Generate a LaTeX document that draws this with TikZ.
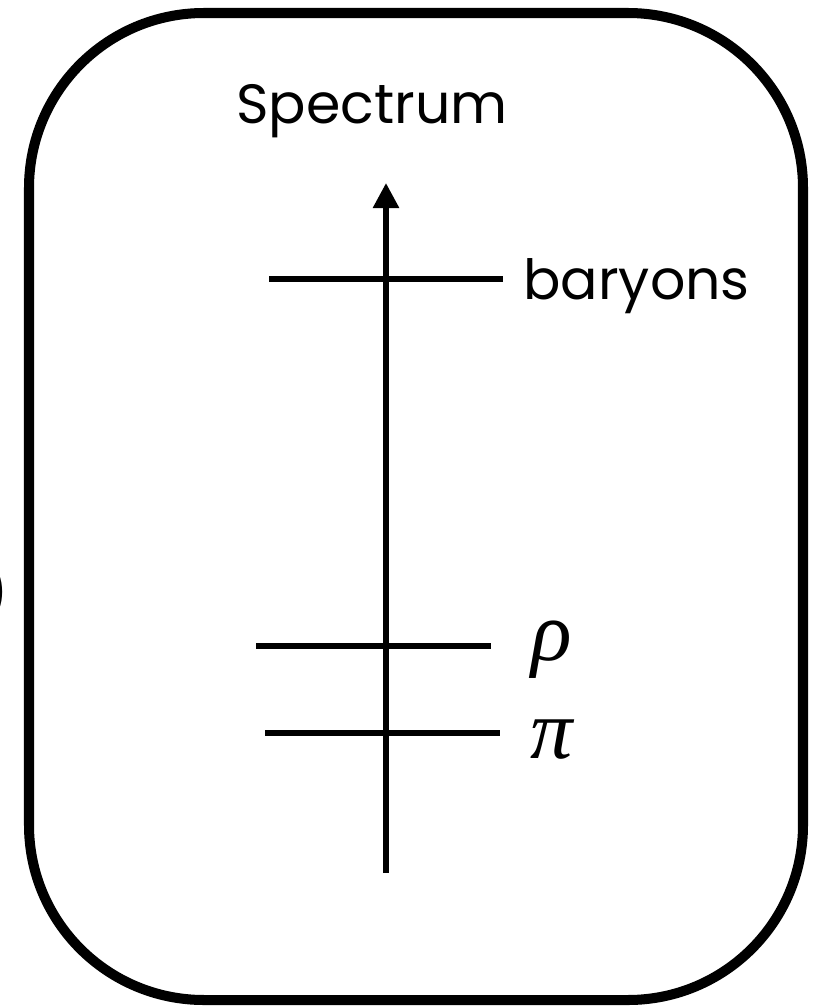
\documentclass[tikz,border=0pt]{standalone}
\usepackage{fontspec}
\setmainfont{Poppins}
\newfontfamily\greekfont{Liberation Serif}
\usetikzlibrary{positioning,arrows.meta}

\begin{document}
\begin{tikzpicture}[
  x=0.2mm, y=-0.2mm,
  >={Triangle[length=5mm,width=5mm]},
  every node/.style={font=\fontsize{31.5}{36}\selectfont, inner sep=0pt},
  frame/.style={line width=5.7pt, rounded corners=3.5cm},
  level/.style={line width=3.2pt},
  axisline/.style={line width=3.2pt,->},
  lbl/.style={anchor=base west},
  greeklbl/.style={anchor=base west, font=\greekfont\itshape\fontsize{48}{52}\selectfont}
]
\useasboundingbox (0,0) rectangle (815,1007);

% 枠
\draw[frame] (29,13) rectangle (803,1000);

% 左端で切れた括弧
\node[anchor=base east] (paren) at (9,612) {)};

% タイトル
\node[anchor=base] (title) at (372,123) {Spectrum};

% 縦軸
\coordinate (axbot) at (386,873);
\coordinate (axtop) at (386,183);
\draw[axisline] (axbot) -- (axtop);

% 準位
\coordinate (bL) at (269,279);
\coordinate (bR) at (503,279);
\coordinate (rL) at (256,646);
\coordinate (rR) at (491,646);
\coordinate (pL) at (265,733);
\coordinate (pR) at (500,733);

\draw[level] (bL) -- (bR);
\draw[level] (rL) -- (rR);
\draw[level] (pL) -- (pR);

\node[lbl] (baryons) at ([shift={(20,20)}]bR) {baryons};
\node[greeklbl] (rho) at ([shift={(40,14)}]rR) {ρ};
\node[greeklbl] (pion) at ([shift={(30,25)}]pR) {π};
\end{tikzpicture}
\end{document}
